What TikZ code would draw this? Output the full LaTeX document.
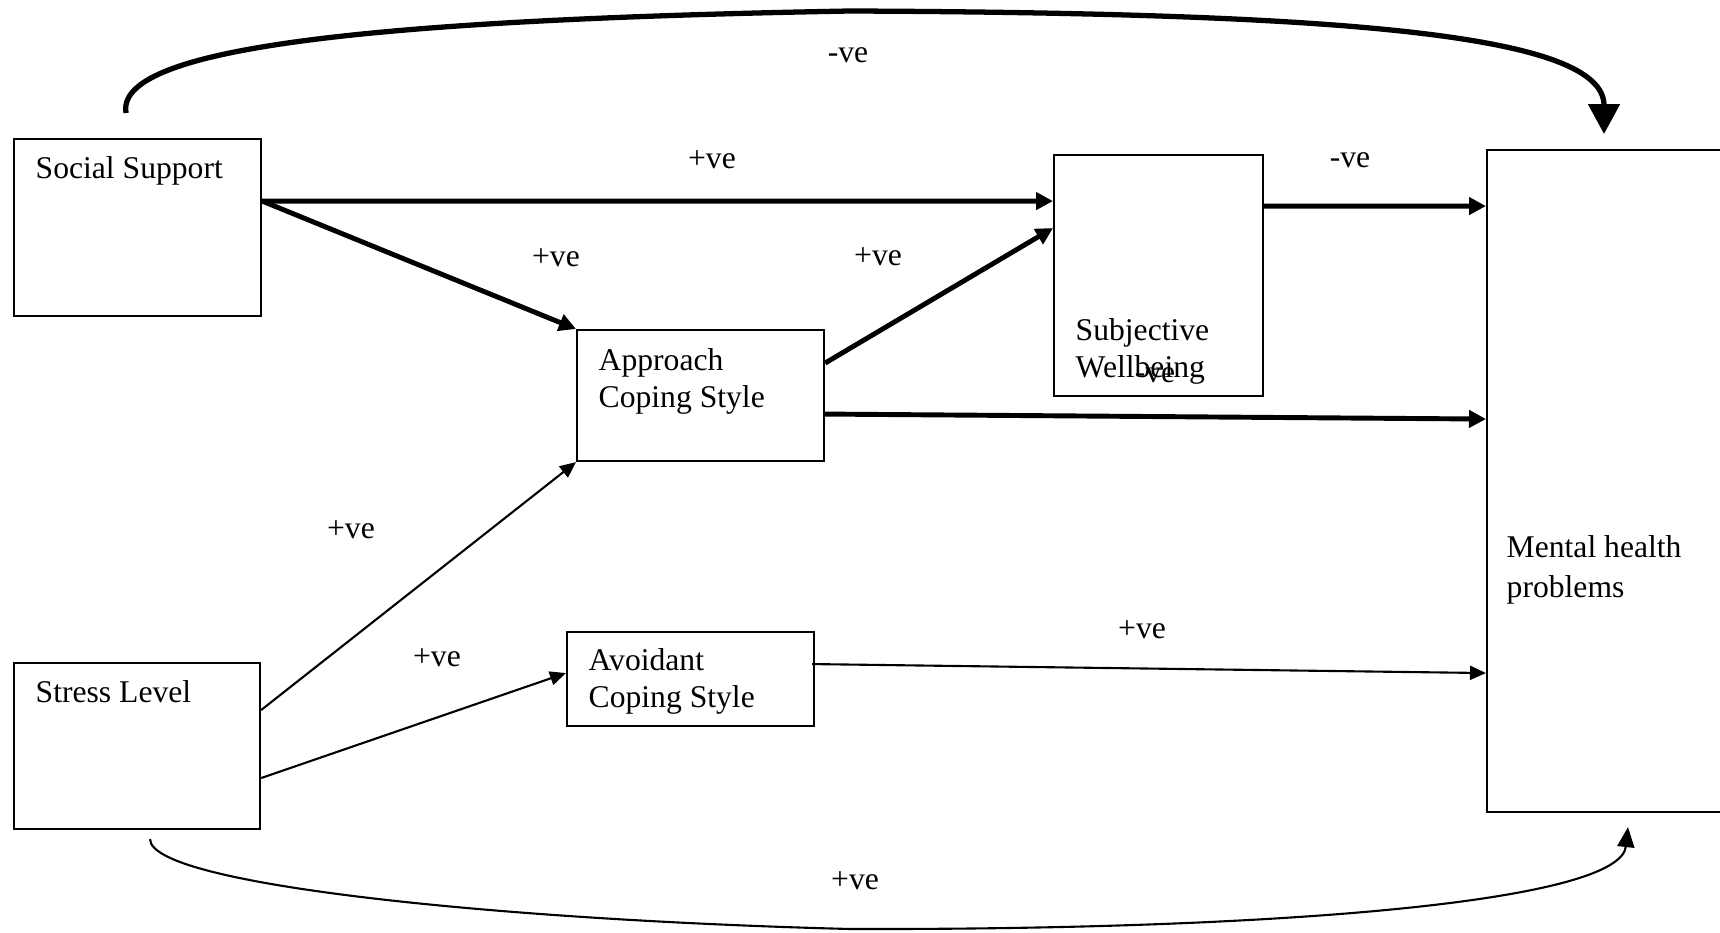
\documentclass[tikz,border=0pt]{standalone}
\usepackage{fontspec}
\setmainfont{Liberation Serif}
\usetikzlibrary{arrows.meta}

\begin{document}
\begin{tikzpicture}[
    factorbox/.style={draw, line width=0.6pt, anchor=north west, inner sep=0pt},
    boxtext/.style={anchor=base west, align=left, inner sep=0pt, font=\fontsize{9}{10.5}\selectfont},
    labelnode/.style={inner sep=0pt, font=\fontsize{9}{10.5}\selectfont},
    strongarrow/.style={-{Triangle[length=0.17cm, width=0.17cm]}, line width=1.4pt},
    weakarrow/.style={-{Triangle[length=0.16cm, width=0.14cm]}, line width=0.6pt}]
\useasboundingbox (0,0) rectangle (17.2,-9.32);
% boxes
\node[factorbox, minimum width=2.47cm, minimum height=1.77cm] (social) at (0.13,-1.38) {};
\node[factorbox, minimum width=2.47cm, minimum height=1.31cm] (approach) at (5.76,-3.29) {};
\node[factorbox, minimum width=2.09cm, minimum height=2.41cm] (wellbeing) at (10.53,-1.54) {};
\node[factorbox, minimum width=2.60cm, minimum height=6.62cm] (mental) at (14.86,-1.49) {};
\node[factorbox, minimum width=2.46cm, minimum height=1.66cm] (stress) at (0.13,-6.62) {};
\node[factorbox, minimum width=2.47cm, minimum height=0.94cm] (avoidant) at (5.66,-6.31) {};
% box texts (base of the last line)
\node[boxtext] (socialtext) at ([xshift=0.22cm, yshift=-0.40cm]social.north west) {Social Support};
\node[boxtext] (approachtext) at ([xshift=0.22cm, yshift=-0.78cm]approach.north west) {Approach\\Coping Style};
\node[boxtext] (wellbeingtext) at ([xshift=0.22cm, yshift=-2.23cm]wellbeing.north west) {Subjective\\Wellbeing};
\node[boxtext, font=\fontsize{9}{11.2}\selectfont] (mentaltext) at ([xshift=0.20cm, yshift=-4.48cm]mental.north west) {Mental health\\problems};
\node[boxtext] (stresstext) at ([xshift=0.22cm, yshift=-0.40cm]stress.north west) {Stress Level};
\node[boxtext] (avoidanttext) at ([xshift=0.22cm, yshift=-0.76cm]avoidant.north west) {Avoidant\\Coping Style};
% paths
\draw[strongarrow] ([yshift=0.265cm]social.east) -- ([yshift=0.745cm]wellbeing.west);
\draw[strongarrow] ([yshift=0.265cm]social.east) -- (approach.north west);
\draw[strongarrow] ([yshift=0.325cm]approach.east) -- ([yshift=0.475cm]wellbeing.west);
\draw[strongarrow] ([yshift=0.695cm]wellbeing.east) -- ([yshift=2.75cm]mental.west);
\draw[strongarrow] ([yshift=-0.185cm]approach.east) -- ([yshift=0.62cm]mental.west);
\draw[weakarrow] ([yshift=0.36cm]stress.east) -- (approach.south west);
\draw[weakarrow] ([yshift=-0.32cm]stress.east) -- ([yshift=0.06cm]avoidant.west);
\draw[weakarrow] ([xshift=-0.03cm, yshift=0.15cm]avoidant.east) -- ([yshift=-1.92cm]mental.west);
% long curves
\coordinate (topmid) at (8.5,-0.11);
\coordinate (bottommid) at (8.5,-9.29);
\draw[line width=1.5pt, -{Triangle[length=0.3cm, width=0.31cm]}]
    ([xshift=-0.115cm, yshift=0.25cm]social.north) .. controls (1.15,-0.5) and (3.5,-0.2) .. (topmid)
    .. controls (13.5,-0.13) and (16.04,-0.35) .. ([xshift=1.18cm, yshift=0.15cm]mental.north west);
\draw[line width=0.6pt, -{Triangle[length=0.2cm, width=0.17cm]}]
    ([xshift=0.13cm, yshift=-0.09cm]stress.south) .. controls (1.5,-8.85) and (5,-9.2) .. (bottommid)
    .. controls (13,-9.3) and (16.2,-9.0) .. ([xshift=1.42cm, yshift=-0.14cm]mental.south west);
% signs
\foreach \n/\x/\y/\t in {1/8.48/-0.55/-ve, 2/7.12/-1.60/+ve, 3/5.56/-2.58/+ve, 4/8.78/-2.57/+ve,
    5/13.50/-1.60/-ve, 6/11.55/-3.75/-ve, 7/3.51/-5.30/+ve, 8/4.37/-6.58/+ve,
    9/11.42/-6.30/+ve, 10/8.55/-8.81/+ve} {
    \node[labelnode] (sign\n) at (\x,\y) {\t};
}
\end{tikzpicture}
\end{document}
